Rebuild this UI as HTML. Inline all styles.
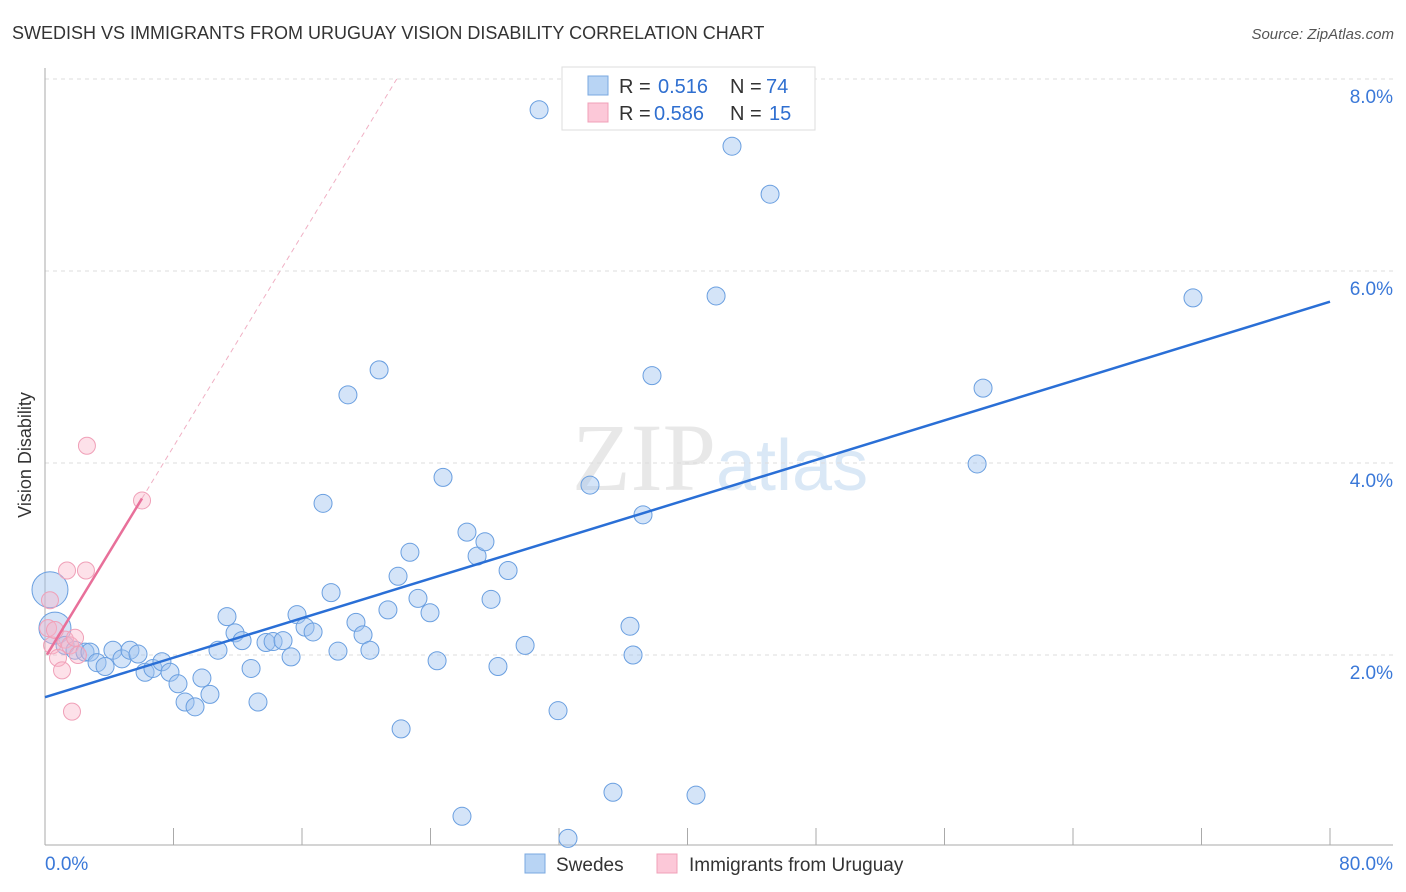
<!DOCTYPE html>
<html><head><meta charset="utf-8"><style>
body{margin:0;background:#fff;font-family:"Liberation Sans",sans-serif;}
svg{display:block}
</style></head><body>
<svg id="c" width="1406" height="892">
<text x="12" y="39" font-size="18" fill="#333">SWEDISH VS IMMIGRANTS FROM URUGUAY VISION DISABILITY CORRELATION CHART</text>
<text x="1394" y="39" font-size="15" font-style="italic" fill="#555" text-anchor="end">Source: ZipAtlas.com</text>
<text x="716" y="490" font-size="96" font-family="Liberation Serif" fill="#e8e8e8" text-anchor="end">ZIP</text>
<text x="716" y="490" font-size="72" fill="#dae8f6">atlas</text>
<text x="31" y="455" font-size="18" fill="#333" text-anchor="middle" transform="rotate(-90 31 455)">Vision Disability</text>
<g id="grid"></g><g id="marks"></g><g id="lines"></g>
<g>
<rect x="562" y="67" width="253" height="63" fill="#fff" stroke="#ddd"/>
<rect x="588" y="76" width="20" height="19" fill="#b8d4f4" stroke="#7aa8e0"/>
<rect x="588" y="103" width="20" height="19" fill="#fcc8d8" stroke="#f0a0b8"/>
<text x="619" y="93" font-size="20" fill="#333">R = </text><text x="658" y="93" font-size="20" fill="#2f6fd0">0.516</text>
<text x="730" y="93" font-size="20" fill="#333">N = </text><text x="766" y="93" font-size="20" fill="#2f6fd0">74</text>
<text x="619" y="120" font-size="20" fill="#333">R = </text><text x="654" y="120" font-size="20" fill="#2f6fd0">0.586</text>
<text x="730" y="120" font-size="20" fill="#333">N = </text><text x="769" y="120" font-size="20" fill="#2f6fd0">15</text>
</g>
<g>
<rect x="525" y="854" width="20" height="19" fill="#b8d4f4" stroke="#7aa8e0"/>
<text x="556" y="871" font-size="19" fill="#333">Swedes</text>
<rect x="657" y="854" width="20" height="19" fill="#fcc8d8" stroke="#f0a0b8"/>
<text x="689" y="871" font-size="19" fill="#333">Immigrants from Uruguay</text>
</g>
</svg>
<script>
const blueX=[0.31,0.62,1.25,1.87,2.49,2.80,3.24,3.74,4.23,4.79,5.29,5.79,6.23,6.72,7.28,7.78,8.28,8.72,9.34,9.77,10.27,10.77,11.33,11.83,12.27,12.83,13.26,13.76,14.20,14.82,15.32,15.69,16.19,16.69,17.31,17.81,18.24,18.86,19.36,19.80,20.23,20.80,21.35,21.98,22.17,22.72,23.22,23.97,24.41,24.78,25.96,26.27,26.90,27.39,27.77,28.20,28.83,29.89,30.76,31.94,32.56,33.93,35.36,36.42,36.61,37.23,37.79,40.53,41.78,42.77,45.14,58.03,58.40,71.47];
const blueY=[2.68,2.28,2.10,2.05,2.03,2.03,1.92,1.88,2.05,1.96,2.05,2.01,1.82,1.86,1.93,1.82,1.70,1.51,1.46,1.76,1.59,2.05,2.40,2.23,2.15,1.86,1.51,2.13,2.14,2.15,1.98,2.42,2.29,2.24,3.58,2.65,2.04,4.71,2.34,2.21,2.05,4.97,2.47,2.82,1.23,3.07,2.59,2.44,1.94,3.85,0.32,3.28,3.03,3.18,2.58,1.88,2.88,2.10,7.68,1.42,0.09,3.77,0.57,2.30,2.00,3.46,4.91,0.54,5.74,7.30,6.80,3.99,4.78,5.72];
const pinkX=[0.31,0.19,0.44,0.81,1.06,1.25,1.56,1.68,1.87,2.05,1.37,2.55,2.61,6.04,0.62];
const pinkY=[2.57,2.28,2.10,1.97,1.84,2.16,2.10,1.41,2.18,2.00,2.88,2.88,4.18,3.61,2.26];
const yTicks=[2,4,6,8];
const xTicks=[0,8,16,24,32,40,48,56,64,72,80];
const blueFit=[1.56,5.68];
const pinkFit=[1.97,0.275];
const pinkDashEnd=21.9;
const NS="http://www.w3.org/2000/svg";
const sx=v=>45+v/80*1285, sy=v=>847-v*96;
function mk(p,t,a){const e=document.createElementNS(NS,t);for(const k in a)e.setAttribute(k,a[k]);p.appendChild(e);return e;}
const grid=document.getElementById('grid'),marks=document.getElementById('marks'),lines=document.getElementById('lines');
yTicks.forEach(v=>{
 const l=mk(grid,'line',{x1:45,x2:1393,y1:sy(v),y2:sy(v),stroke:'#ddd','stroke-dasharray':'4,4'});
 
 
 const t=mk(grid,'text',{x:1393,y:sy(v)+24,'font-size':19,fill:'#3a78d8','text-anchor':'end'});t.textContent=v.toFixed(1)+'%';
 
 
});
mk(grid,'line',{x1:45,x2:45,y1:68,y2:845,stroke:'#aaa'});
mk(grid,'line',{x1:45,x2:1393,y1:845,y2:845,stroke:'#aaa'});
xTicks.forEach(v=>{
 const l=mk(grid,'line',{x1:sx(v),x2:sx(v),y1:828,y2:845,stroke:'#aaa'});
 
 
});
[[0,'start',45],[80,'end',1393]].forEach(([v,a,x])=>{
 const t=mk(grid,'text',{x:x,y:870,'font-size':19,fill:'#3a78d8','text-anchor':a});t.textContent=v.toFixed(1)+'%';
 
 
});
blueX.forEach((x,i)=>{
 const r=i==0?18:(i==1?16:9);
 const c=mk(marks,'circle',{cx:sx(x),cy:sy(blueY[i]),r:r,fill:'rgba(160,196,240,0.45)',stroke:'#6a9fe0','stroke-width':1});
 
 
});
pinkX.forEach((x,i)=>{
 const c=mk(marks,'circle',{cx:sx(x),cy:sy(pinkY[i]),r:8.5,fill:'rgba(250,180,200,0.4)',stroke:'#f0a0b8','stroke-width':1});
 
 
});
const bl=mk(lines,'line',{x1:sx(0),y1:sy(blueFit[0]),x2:sx(80),y2:sy(blueFit[1]),stroke:'#2a6fd6','stroke-width':2.5});


const pEnd=6.04;
const pl=mk(lines,'line',{x1:sx(0.12),y1:sy(pinkFit[0]+pinkFit[1]*0.12),x2:sx(pEnd),y2:sy(pinkFit[0]+pinkFit[1]*pEnd),stroke:'#e8709a','stroke-width':2.5});


const pd=mk(lines,'line',{x1:sx(pEnd),y1:sy(pinkFit[0]+pinkFit[1]*pEnd),x2:sx(pinkDashEnd),y2:sy(8),stroke:'#f0b0c4','stroke-width':1,'stroke-dasharray':'5,4'});


</script>
</body></html>
